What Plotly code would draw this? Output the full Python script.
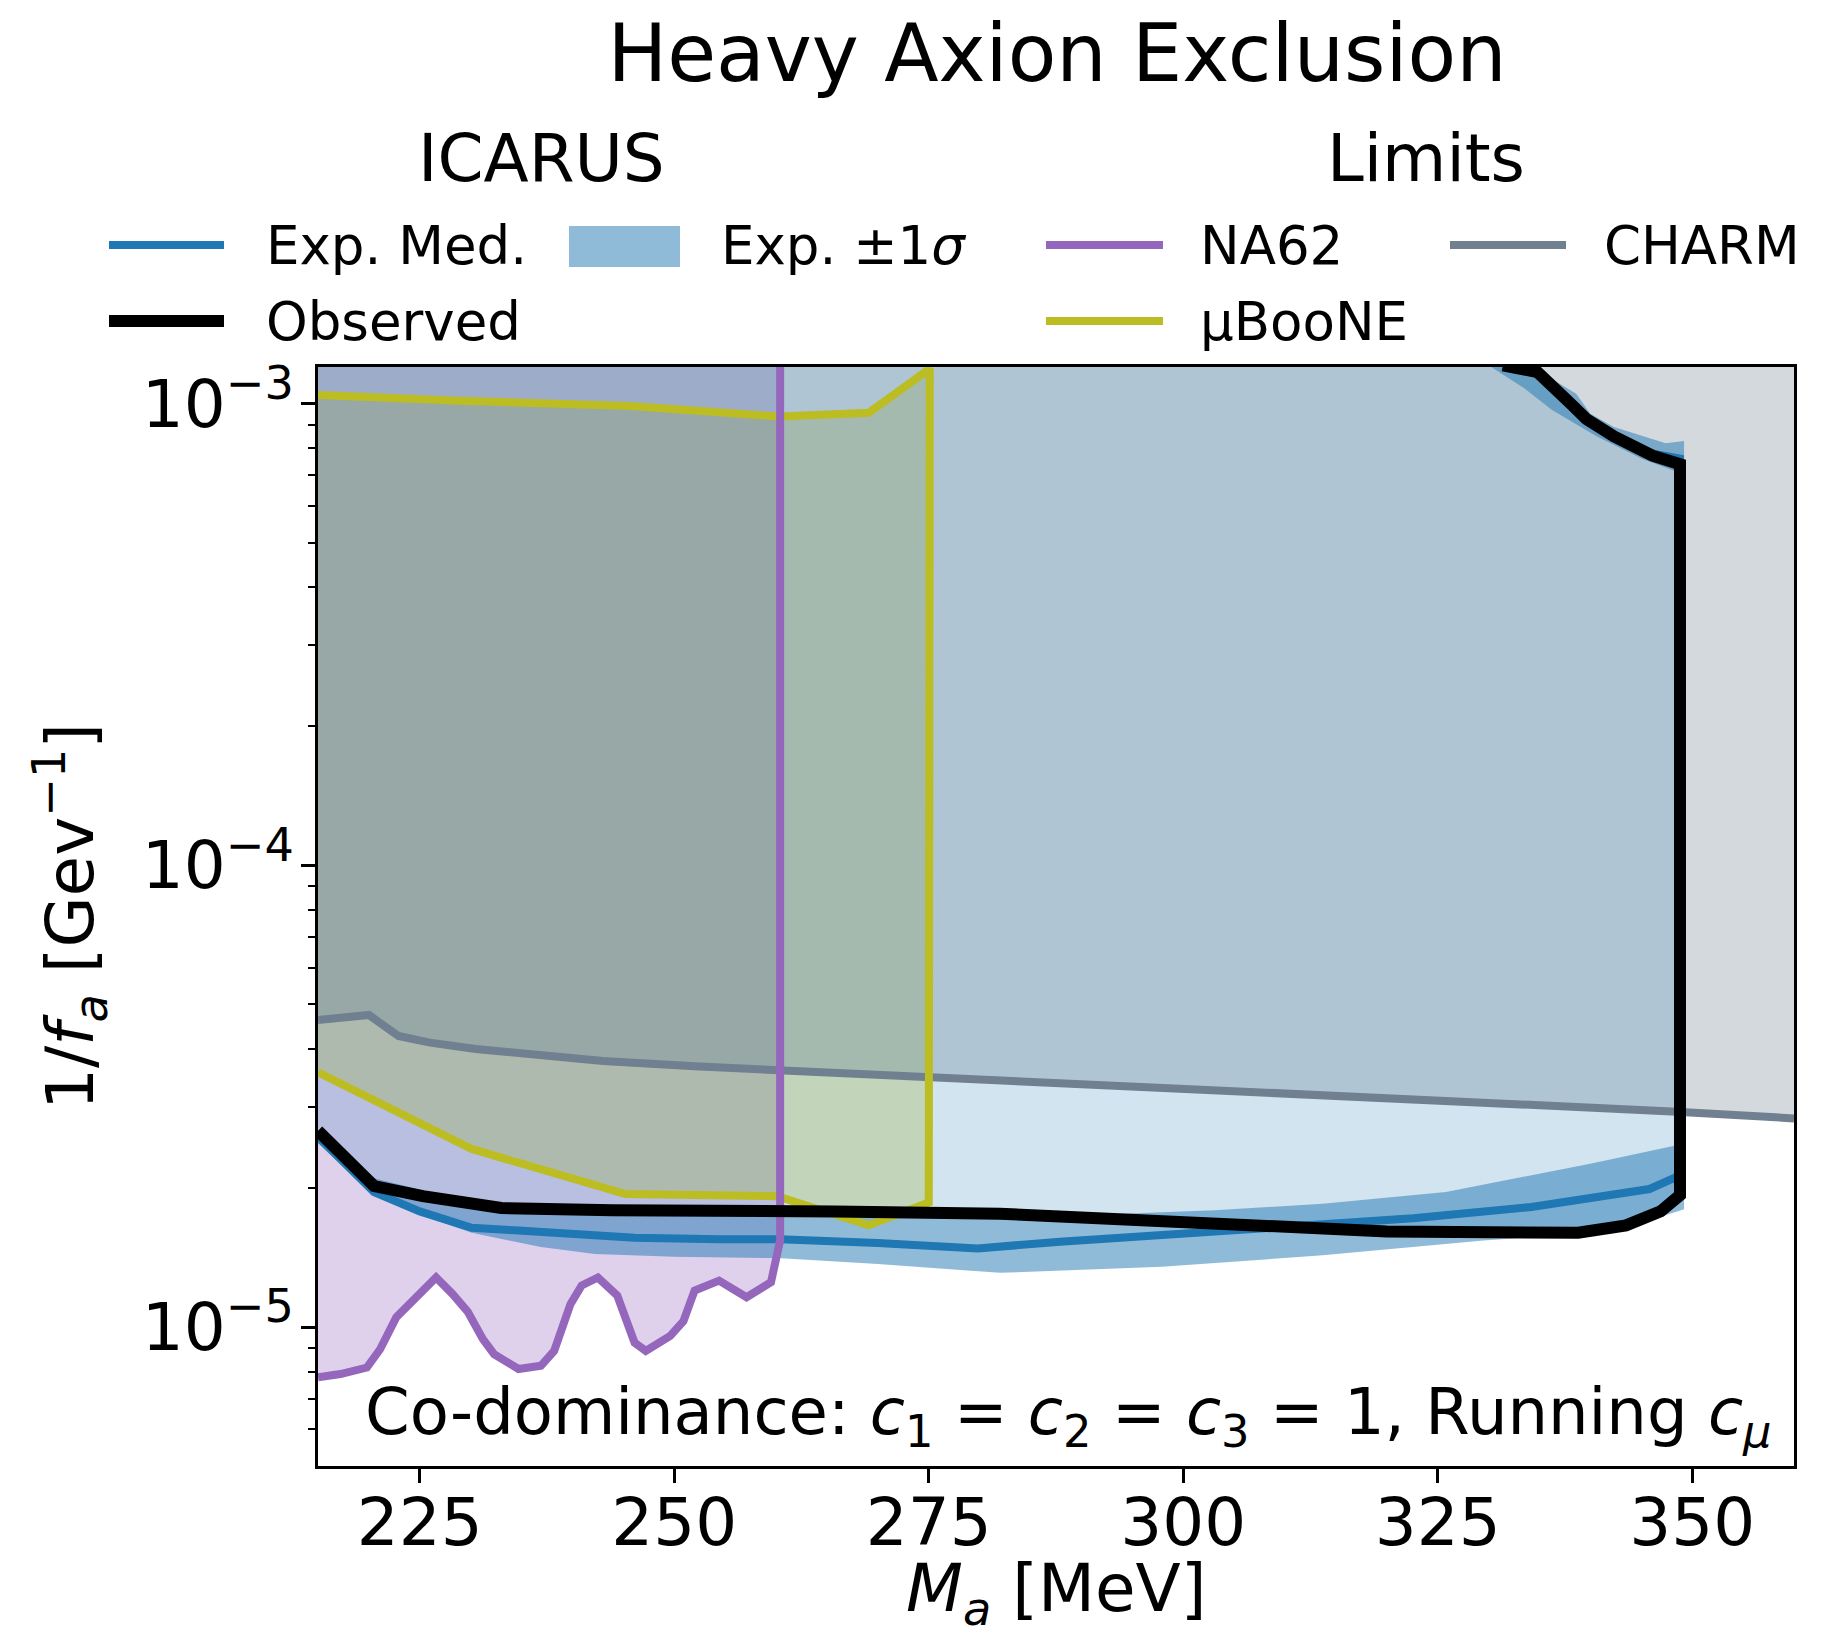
import plotly.graph_objects as go

# axis ranges
x_min, x_max = 215, 360
y_min, y_max = 5e-6, 1.2e-3

x_ticks = [225, 250, 275, 300, 325, 350]
y_ticks = [1e-5, 1e-4, 1e-3]
y_ticktext = ["10<sup>\u22125</sup>", "10<sup>\u22124</sup>", "10<sup>\u22123</sup>"]

# ICARUS observed contour (lower branch, right edge, upper branch)
obs_mass = [215.0, 220.5, 225.3, 230.1, 233.0, 243.9, 248.7, 259.7, 265.8, 282.0, 299.5, 320.0,
            338.8, 343.5, 346.9, 348.8, 348.8, 346.1, 342.3, 339.6, 338.2, 335.5, 334.8, 331.4]
obs_coup = [2.66e-5, 2.02e-5, 1.92e-5, 1.84e-5, 1.81e-5, 1.79e-5, 1.79e-5, 1.80e-5, 1.78e-5, 1.76e-5,
            1.70e-5, 1.61e-5, 1.60e-5, 1.66e-5, 1.78e-5, 1.93e-5, 7.39e-4, 7.71e-4, 8.49e-4, 9.26e-4,
            9.93e-4, 1.14e-3, 1.17e-3, 1.21e-3]

# ICARUS expected median contour
med_mass = [215.0, 220.5, 225.0, 230.1, 234.3, 246.1, 254.4, 260.4, 270.0, 279.8, 287.9, 299.5,
            311.0, 322.6, 334.2, 345.8, 348.8, 348.8, 346.0, 342.0, 339.5, 338.0, 335.3, 333.0]
med_coup = [2.58e-5, 1.96e-5, 1.78e-5, 1.64e-5, 1.62e-5, 1.56e-5, 1.55e-5, 1.55e-5, 1.52e-5, 1.48e-5,
            1.53e-5, 1.59e-5, 1.64e-5, 1.72e-5, 1.82e-5, 1.99e-5, 2.13e-5, 7.6e-4, 7.8e-4, 8.5e-4,
            9.3e-4, 1.0e-3, 1.14e-3, 1.21e-3]

# expected +1 sigma (outer) and -1 sigma (inner) contours
band_out_mass = [215.0, 220.5, 225.0, 230.1, 236.9, 242.2, 250.0, 260.1, 270.0, 282.0, 297.9, 313.7,
                 329.5, 339.0, 345.0, 349.2, 349.2, 347.4, 342.3, 340.0, 338.6, 336.5, 334.0]
band_out_coup = [2.50e-5, 1.93e-5, 1.75e-5, 1.60e-5, 1.49e-5, 1.44e-5, 1.42e-5, 1.41e-5, 1.37e-5,
                 1.31e-5, 1.35e-5, 1.43e-5, 1.54e-5, 1.59e-5, 1.68e-5, 1.80e-5, 8.3e-4, 8.2e-4,
                 8.9e-4, 9.5e-4, 1.05e-3, 1.12e-3, 1.21e-3]
band_in_mass = [215.0, 220.5, 230.1, 240.0, 260.0, 282.0, 303.1, 313.7, 325.8, 340.1, 348.6, 348.6,
                345.0, 340.6, 336.2, 333.5, 330.0]
band_in_coup = [2.62e-5, 2.10e-5, 1.86e-5, 1.77e-5, 1.75e-5, 1.72e-5, 1.79e-5, 1.85e-5, 1.96e-5,
                2.26e-5, 2.48e-5, 7.1e-4, 7.6e-4, 8.5e-4, 9.7e-4, 1.08e-3, 1.21e-3]

# NA62 limit
na62_mass = [215.0, 217.2, 219.8, 221.1, 222.7, 223.8, 225.3, 226.6, 228.2, 229.7, 231.2, 232.3,
             234.7, 236.9, 238.2, 239.8, 240.9, 242.5, 244.4, 246.1, 247.2, 249.6, 250.9, 252.0,
             254.4, 257.1, 259.5, 260.0, 260.4, 260.4]
na62_coup = [7.78e-6, 7.91e-6, 8.17e-6, 8.95e-6, 1.05e-5, 1.11e-5, 1.20e-5, 1.28e-5, 1.18e-5, 1.08e-5,
             9.41e-6, 8.73e-6, 8.11e-6, 8.24e-6, 8.88e-6, 1.12e-5, 1.23e-5, 1.28e-5, 1.17e-5, 9.25e-6,
             8.88e-6, 9.57e-6, 1.03e-5, 1.20e-5, 1.26e-5, 1.16e-5, 1.25e-5, 1.39e-5, 1.54e-5, 1.3e-3]

# MicroBooNE limit (closed contour)
ub_mass = [215.0, 230.1, 245.2, 260.1, 269.1, 275.0, 275.1, 269.1, 260.35, 245.7, 229.0, 215.0]
ub_coup = [3.56e-5, 2.43e-5, 1.94e-5, 1.92e-5, 1.66e-5, 1.86e-5, 1.19e-3, 9.55e-4, 9.37e-4, 9.88e-4,
           1.014e-3, 1.044e-3]

# CHARM limit
charm_mass = [215.0, 220.0, 222.9, 226.0, 230.5, 236.0, 243.0, 252.0, 260.4, 270.0, 282.0, 299.5,
              313.7, 330.0, 348.0, 360.0]
charm_coup = [4.62e-5, 4.74e-5, 4.27e-5, 4.13e-5, 4.00e-5, 3.88e-5, 3.77e-5, 3.67e-5, 3.60e-5, 3.52e-5,
              3.42e-5, 3.28e-5, 3.19e-5, 3.06e-5, 2.93e-5, 2.83e-5]

BLUE = "#1f77b4"
PURPLE = "#9467bd"
OLIVE = "#bcbd22"
SLATE = "#708090"
FONT = "DejaVu Sans"

# page body adds an 8px margin, so the figure is a bit smaller than the window
OFF = 8
W, H = 1845 - 2 * OFF, 1636 - 2 * OFF
# plot area in window pixels: x 318..1794, y 367..1466
ML, MT = 318 - OFF, 367 - OFF
MR, MB = W - (1794 - OFF), H - (1466 - OFF)
PW, PH = 1794 - 318, 1466 - 367


def px(x):
    # window pixel -> paper x
    return (x - 318) / PW


def py(y):
    # window pixel -> paper y
    return (1466 - y) / PH


def fill_trace(xs, ys, color):
    return go.Scatter(x=xs, y=ys, mode="lines", fill="toself", fillcolor=color,
                      line=dict(width=0), hoverinfo="skip", showlegend=False)


def line_trace(xs, ys, color, width):
    return go.Scatter(x=xs, y=ys, mode="lines", line=dict(color=color, width=width),
                      hoverinfo="skip", showlegend=False)


fig = go.Figure()

# limit regions
fig.add_trace(fill_trace(na62_mass + [x_min], na62_coup + [y_max], "rgba(148,103,189,0.3)"))
fig.add_trace(fill_trace(ub_mass, ub_coup, "rgba(188,189,34,0.3)"))
fig.add_trace(fill_trace(charm_mass + [x_max, x_min], charm_coup + [y_max, y_max],
                         "rgba(112,128,144,0.3)"))

# ICARUS regions
fig.add_trace(fill_trace(obs_mass + [x_min], obs_coup + [y_max], "rgba(31,119,180,0.2)"))
fig.add_trace(fill_trace(band_out_mass + band_in_mass[::-1], band_out_coup + band_in_coup[::-1],
                         "rgba(31,119,180,0.5)"))

# lines
fig.add_trace(line_trace(med_mass, med_coup, BLUE, 8))
fig.add_trace(line_trace(charm_mass, charm_coup, SLATE, 8))
fig.add_trace(line_trace(ub_mass, ub_coup, OLIVE, 8))
fig.add_trace(line_trace(na62_mass, na62_coup, PURPLE, 8))
fig.add_trace(line_trace(obs_mass, obs_coup, "black", 12))

# legend drawn by hand (matplotlib style, two titled blocks)
shapes = []
annots = []
row1, row2 = 245, 321
for (x0, x1, yy, col, lw) in [(109, 224, row1, BLUE, 8), (109, 224, row2, "black", 12),
                              (1046, 1163, row1, PURPLE, 8), (1450, 1566, row1, SLATE, 8),
                              (1046, 1163, row2, OLIVE, 8)]:
    shapes.append(dict(type="line", xref="paper", yref="paper", x0=px(x0), x1=px(x1),
                       y0=py(yy), y1=py(yy), line=dict(color=col, width=lw)))
shapes.append(dict(type="rect", xref="paper", yref="paper", x0=px(569), x1=px(680),
                   y0=py(267), y1=py(226), fillcolor="rgba(31,119,180,0.5)", line=dict(width=0)))

for (xx, yy, txt) in [(264, row1, "Exp. Med."), (719, row1, "Exp. \u00b11<i>\u03c3</i>"),
                      (264, row2, "Observed"), (1198, row1, "NA62"), (1602, row1, "CHARM"),
                      (1198, row2, "\u03bcBooNE")]:
    annots.append(dict(x=px(xx), y=py(yy), xref="paper", yref="paper", text=txt, showarrow=False,
                       xanchor="left", yanchor="middle", font=dict(size=53, color="black")))

for (xx, txt) in [(541, "ICARUS"), (1426, "Limits")]:
    annots.append(dict(x=px(xx), y=py(159), xref="paper", yref="paper", text=txt, showarrow=False,
                       xanchor="center", yanchor="middle", font=dict(size=66, color="black")))

annots.append(dict(x=px(1774), y=py(1416), xref="paper", yref="paper", showarrow=False,
                   xanchor="right", yanchor="middle", font=dict(size=64, color="black"),
                   text="Co-dominance: <i>c</i><sub>1</sub> = <i>c</i><sub>2</sub> = "
                        "<i>c</i><sub>3</sub> = 1, Running <i>c</i><sub><i>\u03bc</i></sub>"))

# x axis title as an annotation so it can sit low in the margin like the original
annots.append(dict(x=0.5, y=py(1593), xref="paper", yref="paper", showarrow=False,
                   xanchor="center", yanchor="middle", font=dict(size=66, color="black"),
                   text="<i>M</i><sub><i>a</i></sub> [MeV]"))

minor_vals = [m * 10.0 ** e for e in (-6, -5, -4) for m in range(2, 10)
              if y_min <= m * 10.0 ** e <= y_max]

fig.update_layout(
    width=W, height=H,
    margin=dict(l=ML, r=MR, t=MT, b=MB),
    plot_bgcolor="white", paper_bgcolor="white",
    font=dict(family=FONT, color="black", size=53),
    title=dict(text="Heavy Axion Exclusion", x=px(1057), xref="paper", xanchor="center",
               y=1 - (53 - OFF) / H, yref="container", yanchor="middle",
               font=dict(size=79.5, color="black")),
    showlegend=False,
    shapes=shapes,
    annotations=annots,
    xaxis=dict(range=[x_min, x_max], tickvals=x_ticks, ticks="outside", ticklen=14, tickwidth=3,
               tickcolor="black", showline=True, linecolor="black", linewidth=3, mirror=True,
               showgrid=False, zeroline=False, tickfont=dict(size=66), ticklabelstandoff=-17,
               automargin=False),
    yaxis=dict(type="log", range=[-5.30103, -2.92082], tickvals=y_ticks, ticktext=y_ticktext,
               ticks="outside", ticklen=14, tickwidth=3, tickcolor="black", showline=True,
               linecolor="black", linewidth=3, mirror=True, showgrid=False, zeroline=False,
               tickfont=dict(size=66), ticklabelstandoff=-6,
               minor=dict(tickvals=minor_vals, ticks="outside", ticklen=7, tickwidth=2,
                          tickcolor="black", showgrid=False),
               title=dict(text="1/<i>f</i><sub><i>a</i></sub> [Gev<sup>\u22121</sup>]",
                          font=dict(size=66), standoff=27),
               automargin=False),
)

fig.write_html("out.html")
